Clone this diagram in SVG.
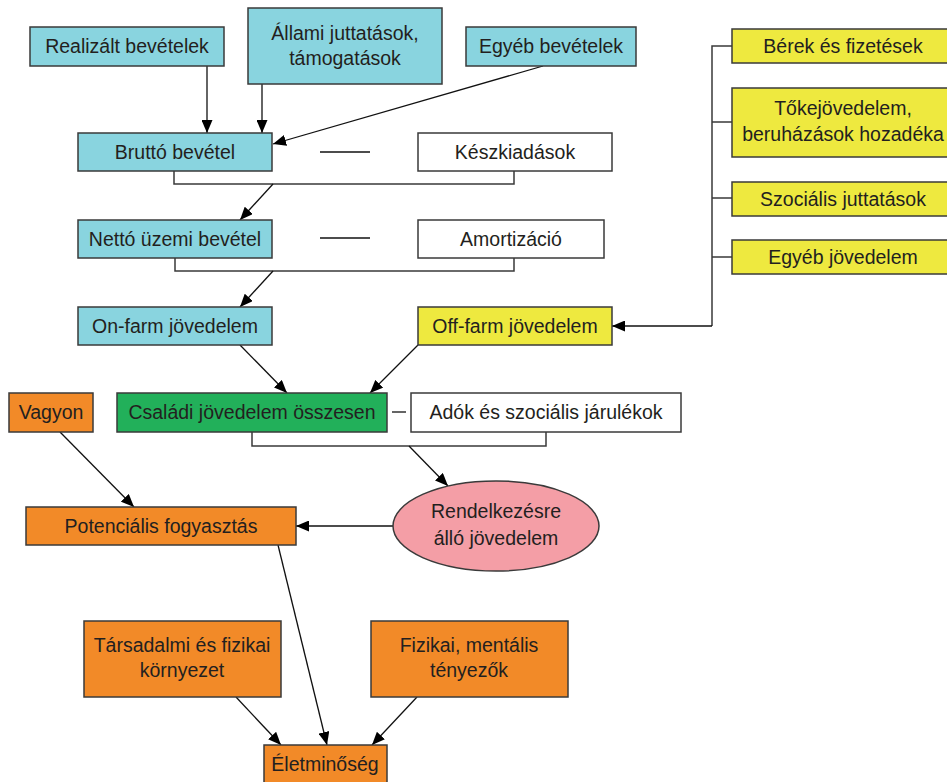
<svg xmlns="http://www.w3.org/2000/svg" width="947" height="782" viewBox="0 0 947 782">
<style>
.box{stroke:#3a3a3a;stroke-width:1.5}
.cyan{fill:#89d4df}
.yellow{fill:#eee93f}
.orange{fill:#f28a28}
.green{fill:#22b05a}
.white{fill:#ffffff}
.pink{fill:#f49ea6}
text{font-family:"Liberation Sans",Arial,sans-serif;font-size:19.5px;fill:#231f20;text-anchor:middle}
.ln{fill:none;stroke:#111;stroke-width:1.3}
.br{fill:none;stroke:#3a3a3a;stroke-width:1.5}
</style>
<defs>
<marker id="ah" markerUnits="userSpaceOnUse" markerWidth="13" markerHeight="11" refX="13" refY="5.5" orient="auto">
<path d="M0,0 L13,5.5 L0,11 z" fill="#000"/>
</marker>
</defs>
<rect width="947" height="782" fill="#fff"/>
<g id="connectors">
<path class="ln" d="M207,66 L207,133" marker-end="url(#ah)"/>
<path class="ln" d="M262,84 L262,133" marker-end="url(#ah)"/>
<path class="ln" d="M543,66 L273,144" marker-end="url(#ah)"/>
<path class="br" d="M174,171 V184 H514 V171"/>
<path class="ln" d="M273,184 L240,220" marker-end="url(#ah)"/>
<path class="ln" d="M320,152 H370"/>
<path class="br" d="M175,258 V271 H514 V258"/>
<path class="ln" d="M273,271 L240,307" marker-end="url(#ah)"/>
<path class="ln" d="M320,238 H370"/>
<path class="br" d="M732,46 H712 V326 M712,122 H732 M712,198 H732 M712,257 H732"/>
<path class="ln" d="M712,326 H612" marker-end="url(#ah)"/>
<path class="ln" d="M240,345 L287,393" marker-end="url(#ah)"/>
<path class="ln" d="M418,345 L370,393" marker-end="url(#ah)"/>
<path class="ln" d="M392,412 H406"/>
<path class="br" d="M252,432 V446 H546 V432"/>
<path class="ln" d="M409,446 L448,486" marker-end="url(#ah)"/>
<path class="ln" d="M60,432 L134,507" marker-end="url(#ah)"/>
<path class="ln" d="M393,526 H296" marker-end="url(#ah)"/>
<path class="ln" d="M278,545 L327,745" marker-end="url(#ah)"/>
<path class="ln" d="M236,697 L281,745" marker-end="url(#ah)"/>
<path class="ln" d="M417,697 L372,745" marker-end="url(#ah)"/>
</g>
<g id="realizalt"><rect class="box cyan" x="30" y="27" width="194" height="39"/><text x="127" y="53">Realizált bevételek</text></g>
<g id="allami"><rect class="box cyan" x="248" y="8" width="194" height="76"/><text x="345" y="40">Állami juttatások,</text><text x="345" y="65">támogatások</text></g>
<g id="egyeb-bevetelek"><rect class="box cyan" x="466" y="27" width="170" height="39"/><text x="551" y="53">Egyéb bevételek</text></g>
<g id="brutto"><rect class="box cyan" x="78" y="133" width="194" height="38"/><text x="175" y="159">Bruttó bevétel</text></g>
<g id="keszkiadasok"><rect class="box white" x="418" y="133" width="194" height="38"/><text x="515" y="159">Készkiadások</text></g>
<g id="netto"><rect class="box cyan" x="78" y="220" width="194" height="38"/><text x="175" y="246">Nettó üzemi bevétel</text></g>
<g id="amortizacio"><rect class="box white" x="418" y="220" width="186" height="38"/><text x="511" y="246">Amortizáció</text></g>
<g id="onfarm"><rect class="box cyan" x="78" y="307" width="194" height="38"/><text x="175" y="333">On-farm jövedelem</text></g>
<g id="offfarm"><rect class="box yellow" x="418" y="307" width="194" height="38"/><text x="515" y="333">Off-farm jövedelem</text></g>
<g id="berek"><rect class="box yellow" x="732" y="29" width="222" height="34"/><text x="843" y="53">Bérek és fizetések</text></g>
<g id="tokejovedelem"><rect class="box yellow" x="732" y="88" width="222" height="69"/><text x="843" y="115">Tőkejövedelem,</text><text x="843" y="141">beruházások hozadéka</text></g>
<g id="szocialis"><rect class="box yellow" x="732" y="182" width="222" height="34"/><text x="843" y="206">Szociális juttatások</text></g>
<g id="egyeb-jovedelem"><rect class="box yellow" x="732" y="240" width="222" height="34"/><text x="843" y="264">Egyéb jövedelem</text></g>
<g id="vagyon"><rect class="box orange" x="9" y="393" width="84" height="39"/><text x="51" y="419">Vagyon</text></g>
<g id="csaladi"><rect class="box green" x="117" y="393" width="270" height="39"/><text x="252" y="419">Családi jövedelem összesen</text></g>
<g id="adok"><rect class="box white" x="411" y="393" width="270" height="39"/><text x="546" y="419">Adók és szociális járulékok</text></g>
<g id="potencialis"><rect class="box orange" x="26" y="507" width="270" height="38"/><text x="161" y="533">Potenciális fogyasztás</text></g>
<g id="rendelkezesre"><ellipse class="box pink" cx="496" cy="526" rx="103" ry="45"/><text x="496" y="518">Rendelkezésre</text><text x="496" y="545">álló jövedelem</text></g>
<g id="tarsadalmi"><rect class="box orange" x="84" y="621" width="197" height="76"/><text x="182" y="652">Társadalmi és fizikai</text><text x="182" y="677">környezet</text></g>
<g id="fizikai"><rect class="box orange" x="371" y="621" width="197" height="76"/><text x="469" y="652">Fizikai, mentális</text><text x="469" y="677">tényezők</text></g>
<g id="eletminoseg"><rect class="box orange" x="264" y="745" width="123" height="38"/><text x="325" y="771">Életminőség</text></g>
</svg>
